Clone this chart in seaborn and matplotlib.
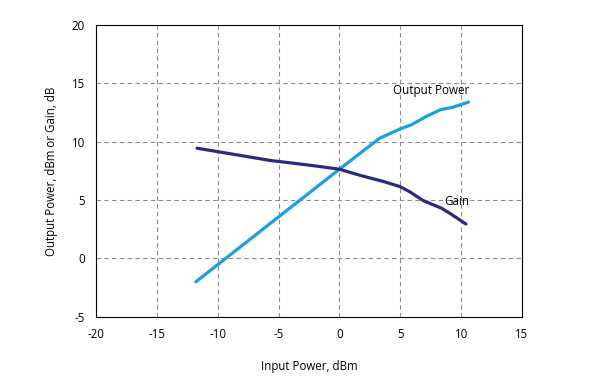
import pandas as pd
import numpy as np
import matplotlib
matplotlib.use("Agg")
import matplotlib.pyplot as plt
import seaborn as sns

# data
out_x = [-11.8, 0.0, 3.3, 5.0, 5.9, 7.2, 8.3, 9.3, 10.6]
out_y = [-2.0, 7.65, 10.3, 11.1, 11.45, 12.2, 12.75, 12.95, 13.4]

gain_x = [-11.7, -5.7, -2.5, 0.0, 1.6, 3.6, 5.0, 5.8, 6.9, 8.4, 9.1, 10.4]
gain_y = [9.45, 8.4, 8.0, 7.65, 7.15, 6.6, 6.15, 5.7, 4.95, 4.3, 3.85, 2.95]

x_ticks = [-20, -15, -10, -5, 0, 5, 10, 15]
y_ticks = [-5, 0, 5, 10, 15, 20]

sns.set_style("white")
plt.rcParams['font.family'] = ['Open Sans', 'DejaVu Sans']
plt.rcParams['axes.unicode_minus'] = False
plt.rcParams['text.color'] = 'black'
plt.rcParams['axes.labelcolor'] = 'black'
plt.rcParams['xtick.color'] = 'black'
plt.rcParams['ytick.color'] = 'black'

out_df = pd.DataFrame({"x": out_x, "y": out_y})
gain_df = pd.DataFrame({"x": gain_x, "y": gain_y})

fig = plt.figure(figsize=(6, 3.85), dpi=100)
ax = fig.add_axes([0.16, 0.177, 0.71, 0.758])

sns.lineplot(data=out_df, x="x", y="y", ax=ax, color="#1a9fe3", linewidth=2.3, sort=False)
sns.lineplot(data=gain_df, x="x", y="y", ax=ax, color="#2b2a80", linewidth=2.3, sort=False)

ax.set_xlim(-20, 15)
ax.set_ylim(-5, 20)
ax.set_xticks(x_ticks)
ax.set_yticks(y_ticks)
ax.tick_params(length=0, labelsize=8.3, pad=8)
ax.grid(True, color="#8c8c8c", linestyle=(0, (4, 3)), linewidth=0.8)
for s in ax.spines.values():
    s.set_color("black")
    s.set_linewidth(0.8)

ax.set_xlabel("Input Power, dBm", fontsize=8.3, labelpad=14)
ax.set_ylabel("Output Power, dBm or Gain, dB", fontsize=8.3, labelpad=10)

ax.text(4.4, 14.1, "Output Power", fontsize=8.4)
ax.text(8.6, 4.6, "Gain", fontsize=8.4)

fig.savefig("out.png", dpi=100)
